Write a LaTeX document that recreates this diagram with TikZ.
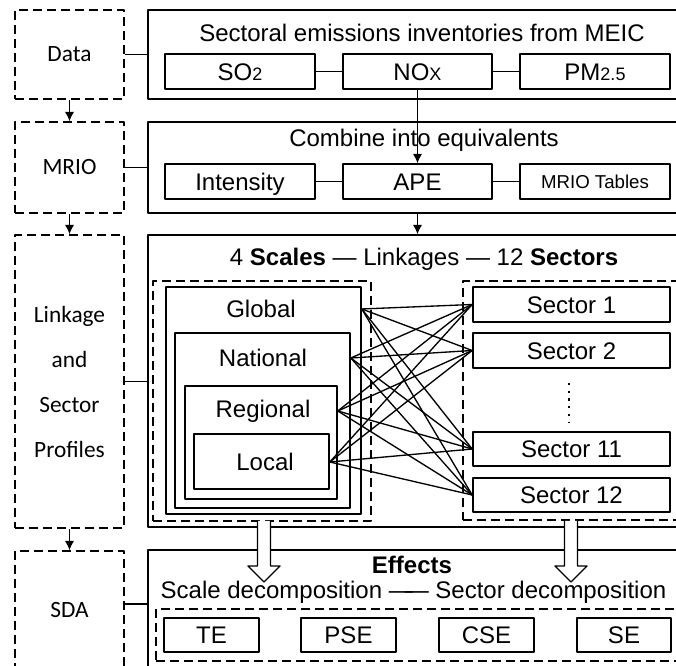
\documentclass[tikz,border=0pt]{standalone}
\usepackage{fontspec}
\setmainfont{Liberation Sans}
\newfontfamily\calfont{Carlito}
\usetikzlibrary{arrows.meta}
\newcommand{\lowsz}{\fontsize{13.5}{14}\selectfont}

\begin{document}
\begin{tikzpicture}[x=0.75pt, y=-0.75pt, font=\fontsize{18}{20}\selectfont, line join=round, >={Latex[length=7pt,width=7pt]},
	wh/.style 2 args={minimum width=#1*0.75pt, minimum height=#2*0.75pt},
	stagebox/.style={draw, dash pattern=on 7pt off 3.5pt, line width=1.2pt, inner sep=0pt, align=center, font=\calfont\fontsize{17.5}{33.75}\selectfont},
	panel/.style={draw, line width=1.2pt, inner sep=0pt},
	itembox/.style={draw, line width=1.2pt, inner sep=0pt, text height=12.9pt, text depth=0pt},
	groupbox/.style={draw, dash pattern=on 7pt off 3.5pt, line width=1.2pt, inner sep=0pt},
	link/.style={line width=1pt}]
	\useasboundingbox (0,0) rectangle (676,666);
	% stages on the left
	\node[stagebox, wh={109}{89}] (data) at (69.5,54.5) {Data};
	\node[stagebox, wh={109}{91}] (mrio) at (69.5,167.5) {MRIO};
	\node[stagebox, wh={109}{293}] (linkage) at (69.5,381.5) {Linkage\\and\\Sector\\Profiles};
	\node[stagebox, wh={109}{118}] (sda) at (69.5,610) {SDA};
	\draw[->, line width=1pt] (data) -- (mrio);
	\draw[->, line width=1pt] (mrio) -- (linkage);
	\draw[->, line width=1pt] (linkage) -- (sda);
	% panels
	\node[panel, wh={542}{89}] (emis) at (419,54.5) {};
	\node[panel, wh={542}{91}] (combine) at (419,167.5) {};
	\node[panel, wh={542}{292}] (profiles) at (419,381) {};
	\node[panel, wh={542}{130}] (effects) at (419,615) {};
	\draw[line width=1.2pt] (data.east) -- (data.east -| emis.west);
	\draw[line width=1.2pt] (mrio.east) -- (mrio.east -| combine.west);
	\draw[line width=1.2pt] (linkage.east) -- (linkage.east -| profiles.west);
	\draw[line width=1.2pt] ([yshift=4.5pt]sda.east) -- ([yshift=4.5pt]sda.east -| effects.west);
	% data panel
	\node (emistitle) at (422,33) {Sectoral emissions inventories from MEIC};
	\node[itembox, wh={150}{35}] (so2) at (240,71.5) {SO{\lowsz 2}};
	\node[itembox, wh={149}{35}] (nox) at (417.5,71.5) {NO{\lowsz X}};
	\node[itembox, wh={150}{35}] (pm) at (595,71.5) {PM{\lowsz 2.5}};
	\draw[line width=1.2pt] (so2) -- (nox);
	\draw[line width=1.2pt] (nox) -- (pm);
	% MRIO panel
	\node (combtitle) at (424,140) {Combine into equivalents};
	\node[itembox, wh={150}{35}] (intensity) at (240,181.5) {Intensity};
	\node[itembox, wh={149}{35}] (ape) at (417.5,181.5) {APE};
	\node[itembox, wh={150}{35}, text height=10pt, font=\fontsize{14}{16}\selectfont] (tables) at (595,181.5) {MRIO Tables};
	\draw[line width=1.2pt] (intensity) -- (ape);
	\draw[line width=1.2pt] (ape) -- (tables);
	\draw[->, line width=1pt] (nox) -- (ape);
	\draw[->, line width=1pt] (ape |- combine.south) -- (ape |- profiles.north);
	% linkage panel
	\node (linktitle) at (424,259) {4 \textbf{Scales} — Linkages — 12 \textbf{Sectors}};
	\node[groupbox, wh={218}{240}] (scales) at (262,401) {};
	\node[itembox, wh={195}{227}] (global) at (263.5,400.5) {};
	\node[itembox, wh={175}{175}] (national) at (262.5,420.5) {};
	\node[itembox, wh={152}{113}] (regional) at (261,442.5) {};
	\node[itembox, wh={135}{55}] (local) at (261.5,461.5) {};
	\node (globaltxt) at (261,309) {Global};
	\node (nationaltxt) at (263,358) {National};
	\node (regionaltxt) at (263,411) {Regional};
	\node (localtxt) at (265,462) {Local};
	\coordinate (g) at (global.east |- globaltxt);
	\coordinate (n) at (national.east |- nationaltxt);
	\coordinate (r) at (regional.east |- regionaltxt);
	\coordinate (l) at (local.east |- localtxt);
	\node[groupbox, wh={227}{239}] (sectors) at (576.5,400.5) {};
	\node[itembox, wh={197}{35}] (s1) at (571.5,304.5) {Sector 1};
	\node[itembox, wh={197}{35}] (s2) at (571.5,350.5) {Sector 2};
	\node[itembox, wh={197}{34}] (s11) at (571.5,449) {Sector 11};
	\node[itembox, wh={197}{34}] (s12) at (571.5,495) {Sector 12};
	\draw[line width=1.6pt, dash pattern=on 1.6pt off 4.2pt] (569,383) -- (569,422);
	\foreach \sc in {g,n,r,l}
		\foreach \se in {s1,s2,s11,s12}
			\draw[link] (\sc) -- (\se.west);
	% SDA panel
	\node[font=\bfseries\fontsize{18}{20}\selectfont] (efftitle) at (412,565) {Effects};
	\node[anchor=west] (decomp) at (156,592) {Scale decomposition —\kern-6pt— Sector decomposition};
	\node[groupbox, wh={534}{52}] (effgroup) at (423,635) {};
	\node[itembox, wh={95}{34}] (te) at (211.5,635) {TE};
	\node[itembox, wh={95}{34}] (pse) at (348.5,635) {PSE};
	\node[itembox, wh={95}{34}] (cse) at (486.5,635) {CSE};
	\node[itembox, wh={94}{34}] (se) at (624,635) {SE};
	% hollow arrows
	\foreach \ax in {264,571}
		\draw[fill=white, line width=1pt] (\ax-6.5,521) -- (\ax-6.5,566) -- (\ax-16,566) -- (\ax,582) -- (\ax+16,566) -- (\ax+6.5,566) -- (\ax+6.5,521);
\end{tikzpicture}
\end{document}
